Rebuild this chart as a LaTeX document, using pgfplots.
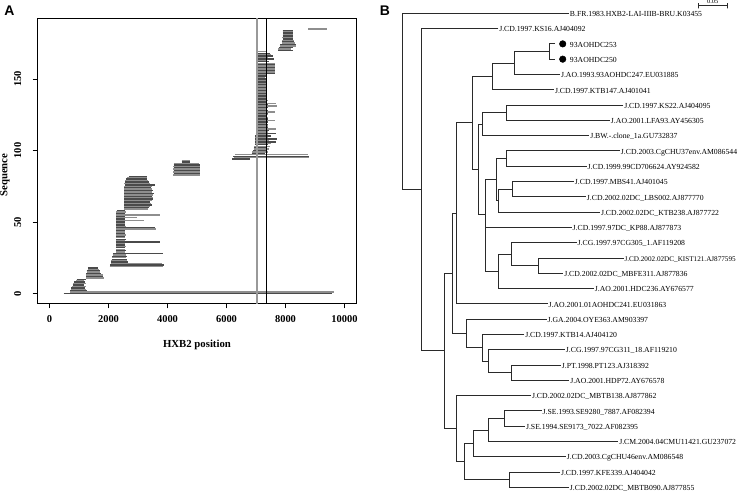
\documentclass[border=0pt]{standalone}
\usepackage{fontspec}
\setmainfont{Liberation Serif}
\newfontfamily\sansfam{Liberation Sans}
\usepackage{pgfplots}
\pgfplotsset{compat=1.18}
\usepackage{pgfplotstable}

\definecolor{segdark}{HTML}{4A4A4A}
\definecolor{seglight}{HTML}{8E8E8E}
\definecolor{vgray}{HTML}{999999}
\definecolor{treeline}{HTML}{2A2A2A}

% sequence index, start and end HXB2 positions
\pgfplotstableread{
y x0 x1
0 480 9560
1 700 9640
2 710 1270
3 720 1250
4 730 1200
5 760 1230
6 780 1180
7 800 1240
8 830 1200
9 900 1180
10 920 1230
11 1250 1850
12 1250 1830
13 1230 1820
14 1250 1750
15 1260 1700
16 1260 1720
17 1290 1680
18 1300 1650
19 2040 3860
20 2060 3880
21 2080 3830
22 2100 2650
23 2100 2640
24 2110 2630
25 2120 2600
26 2130 2620
27 2140 2580
28 2150 3850
29 2260 2560
30 2250 2580
31 2260 2570
32 2250 2560
33 2260 2580
34 2270 2570
35 2260 2560
36 2250 3760
37 2260 2570
38 2270 2580
39 2260 2560
40 2250 2570
41 2260 2580
42 2270 2560
43 2260 2570
44 2250 2560
45 2260 3600
46 2270 3560
47 2260 2580
48 2250 2570
49 2260 2560
50 2270 2570
51 2260 3220
52 2260 2570
53 2260 2960
54 2260 2570
55 2250 3760
56 2270 2560
57 2260 2580
58 2280 2560
59 2540 3330
60 2530 3370
61 2540 3400
62 2530 3460
63 2540 3450
64 2530 3420
65 2540 3480
66 2530 3520
67 2540 3500
68 2530 3460
69 2540 3510
70 2530 3550
71 2540 3460
72 2530 3500
73 2540 3480
74 2530 3430
75 2540 3470
76 2550 3560
77 2540 3400
78 2560 3380
79 2570 3350
80 2590 3320
81 2620 3300
82 2680 3300
83 4200 5100
84 4210 5090
85 4200 5100
86 4210 5100
87 4200 5090
88 4210 5100
89 4200 5100
90 4210 5090
91 4220 5080
92 4480 4770
93 4490 4760
94 6200 6800
95 6250 8780
96 6230 8780
97 6280 8760
98 6850 7300
99 6880 7400
100 6900 7350
101 6920 7430
102 6930 7380
103 6940 7480
104 6950 7420
105 6960 7500
106 6960 7680
107 6970 7450
108 6970 7700
109 6980 7400
110 6980 7500
111 6990 7420
112 6990 7680
113 7000 7400
114 7000 7450
115 7000 7690
116 7000 7400
117 7010 7420
118 7000 7400
119 7010 7380
120 7000 7420
121 7010 7660
122 7000 7400
123 7010 7420
124 7000 7380
125 7010 7400
126 7000 7420
127 7010 7660
128 7000 7400
129 7010 7380
130 7000 7420
131 7010 7700
132 7000 7400
133 7010 7690
134 7020 7380
135 7020 7400
136 7020 7370
137 7020 7380
138 7030 7370
139 7020 7380
140 7030 7370
141 7020 7380
142 7030 7370
143 7020 7380
144 7030 7370
145 7030 7380
146 7030 7370
147 7030 7380
148 7030 7370
149 7040 7380
150 7030 7370
151 7040 7300
152 7040 7380
153 7040 7350
154 7040 7640
155 7040 7650
156 7040 7640
157 7040 7660
158 7040 7650
159 7040 7640
160 7040 7660
161 7040 7640
162 7050 7450
163 7040 7380
164 7050 7620
165 7040 7400
166 7050 7580
167 7050 7520
168 7060 7460
169 7080 7380
170 7750 8240
171 7760 8200
172 7780 8240
173 7800 8370
174 7820 8350
175 7880 8330
176 7880 8280
177 7890 8300
178 7900 8260
179 7890 8270
180 7900 8250
181 7900 8260
182 7910 8250
183 7900 8260
184 7900 8250
185 8770 9420
}\segs

\tikzset{
  tree/.style={draw=treeline, line width=0.85bp, mark=none, line join=miter},
  lab/.style={anchor=west, font=\fontsize{7.75}{9}\selectfont, inner xsep=0.8bp, inner ysep=0pt, text height=0.66em, text depth=0pt},
}

\begin{document}
\begin{tikzpicture}
\path[use as bounding box] (0bp,0bp) rectangle (741bp,492bp);

% ---------------- Panel A ----------------
\begin{axis}[
  at={(37.7bp,188.7bp)}, anchor=south west,
  scale only axis, width=318.6bp, height=285bp,
  xmin=-400, xmax=10400, ymin=-6.8, ymax=192.4,
  xtick={0,2000,4000,6000,8000,10000},
  ytick={0,50,100,150},
  scaled ticks=false,
  /pgf/number format/assume math mode=true,
  /pgf/number format/1000 sep={},
  tick align=outside, xtick pos=left, ytick pos=left,
  major tick length=5bp,
  axis line style={line width=0.8bp, black},
  every tick/.style={black, line width=0.8bp},
  xticklabel shift=4bp, yticklabel shift=8bp,
  xticklabel style={font=\bfseries\fontsize{10.5}{12}\selectfont},
  yticklabel style={font=\bfseries\fontsize{10.5}{12}\selectfont, rotate=90, anchor=south},
  xlabel={HXB2 position},
  ylabel={Sequence},
  xlabel style={at={(axis description cs:0.5,-0.1463)}, anchor=center, font=\bfseries\fontsize{10.8}{12}\selectfont},
  ylabel style={at={(axis description cs:-0.1026,0.450)}, anchor=center, font=\bfseries\fontsize{10.8}{12}\selectfont},
]
\addplot[draw=seglight, line width=1.4bp,
  quiver={u=\thisrow{x1}-\thisrow{x0}, v=0},
  restrict expr to domain={mod(\thisrow{y},2)}{1:1}]
  table[x=x0, y=y] {\segs};
\addplot[draw=segdark, line width=1.4bp,
  quiver={u=\thisrow{x1}-\thisrow{x0}, v=0},
  restrict expr to domain={mod(\thisrow{y},2)}{0:0}]
  table[x=x0, y=y] {\segs};
\addplot[vgray, line width=2bp] coordinates {(7020,-20) (7020,220)};
\addplot[black, line width=0.8bp] coordinates {(7360,-20) (7360,220)};
\end{axis}

% ---------------- Panel B ----------------
\begin{axis}[
  at={(370bp,0bp)}, anchor=south west,
  scale only axis, width=371bp, height=492bp,
  xmin=-0.0557, xmax=0.584, ymin=0.130, ymax=32.31,
  y dir=reverse, hide axis, clip=false,
]
% root and backbone
\addplot[tree] coordinates {(0.2874,1) (0,1) (0,12.54) (0.0322,12.54)};
\addplot[tree] coordinates {(0.1655,2) (0.0322,2) (0.0322,23.08) (0.0719,23.08)};
\addplot[tree] coordinates {(0.0866,18.01) (0.0719,18.01) (0.0719,28.16) (0.0938,28.16)};
\addplot[tree] coordinates {(0.0926,14.08) (0.0866,14.08) (0.0866,21.94) (0.1112,21.94)};
\addplot[tree] coordinates {(0.1207,8.16) (0.0926,8.16) (0.0926,20) (0.2507,20)};
\addplot[tree] coordinates {(0.1552,5.125) (0.1207,5.125) (0.1207,11.2) (0.1310,11.2)};
\addplot[tree] coordinates {(0.1931,4.25) (0.1552,4.25) (0.1552,6) (0.2616,6)};
\addplot[tree] coordinates {(0.2529,3.5) (0.1931,3.5) (0.1931,5) (0.2719,5)};
\addplot[tree] coordinates {(0.2633,3) (0.2529,3) (0.2529,4) (0.2633,4)};
\addplot[tree] coordinates {(0.1379,8.25) (0.1310,8.25) (0.1310,14.16) (0.1426,14.16)};
\addplot[tree] coordinates {(0.1800,7.5) (0.1379,7.5) (0.1379,9) (0.3224,9)};
\addplot[tree] coordinates {(0.3810,7) (0.1800,7) (0.1800,8) (0.3581,8)};
\addplot[tree] coordinates {(0.1628,11.875) (0.1426,11.875) (0.1426,17.875) (0.1655,17.875)};
\addplot[tree] coordinates {(0.1426,15) (0.2921,15)};
\addplot[tree] coordinates {(0.1788,10.5) (0.1628,10.5) (0.1628,13.25) (0.1662,13.25)};
\addplot[tree] coordinates {(0.3753,10) (0.1788,10) (0.1788,11) (0.3179,11)};
\addplot[tree] coordinates {(0.1903,12.5) (0.1662,12.5) (0.1662,14) (0.3409,14)};
\addplot[tree] coordinates {(0.2960,12) (0.1903,12) (0.1903,13) (0.3167,13)};
\addplot[tree] coordinates {(0.1886,16.75) (0.1655,16.75) (0.1655,19) (0.3305,19)};
\addplot[tree] coordinates {(0.3007,16) (0.1886,16) (0.1886,17.5) (0.2345,17.5)};
\addplot[tree] coordinates {(0.3822,17) (0.2345,17) (0.2345,18) (0.2776,18)};
\addplot[tree] coordinates {(0.2490,21) (0.1112,21) (0.1112,22.875) (0.1379,22.875)};
\addplot[tree] coordinates {(0.2103,22) (0.1379,22) (0.1379,23.75) (0.1490,23.75)};
\addplot[tree] coordinates {(0.2805,23) (0.1490,23) (0.1490,24.5) (0.1886,24.5)};
\addplot[tree] coordinates {(0.2736,24) (0.1886,24) (0.1886,25) (0.2879,25)};
\addplot[tree] coordinates {(0.2219,26) (0.0938,26) (0.0938,30.31) (0.1069,30.31)};
\addplot[tree] coordinates {(0.1224,29.125) (0.1069,29.125) (0.1069,31.5) (0.1845,31.5)};
\addplot[tree] coordinates {(0.1483,28.25) (0.1224,28.25) (0.1224,30) (0.2822,30)};
\addplot[tree] coordinates {(0.1759,27.5) (0.1483,27.5) (0.1483,29) (0.3724,29)};
\addplot[tree] coordinates {(0.2403,27) (0.1759,27) (0.1759,28) (0.2116,28)};
\addplot[tree] coordinates {(0.2719,31) (0.1845,31) (0.1845,32) (0.2874,32)};
% scale bar
\addplot[tree, line width=0.8bp] coordinates {(0.5103,0.35) (0.5103,0.67) (0.5103,0.503) (0.5603,0.503) (0.5603,0.67) (0.5603,0.35)};
% sample markers
\addplot[only marks, mark=*, mark size=3.3bp, black] coordinates {(0.2766,3) (0.2766,4)};

\node[anchor=south, font=\fontsize{6.5}{7}\selectfont, inner sep=0.3bp] at (axis cs:0.5353,0.42) {0.05};

\node[lab] at (axis cs:0.2874,1) {B.FR.1983.HXB2-LAI-IIIB-BRU.K03455};
\node[lab] at (axis cs:0.1655,2) {J.CD.1997.KS16.AJ404092};
\node[lab] at (axis cs:0.2874,3) {93AOHDC253};
\node[lab] at (axis cs:0.2874,4) {93AOHDC250};
\node[lab] at (axis cs:0.2719,5) {J.AO.1993.93AOHDC247.EU031885};
\node[lab] at (axis cs:0.2616,6) {J.CD.1997.KTB147.AJ401041};
\node[lab] at (axis cs:0.3810,7) {J.CD.1997.KS22.AJ404095};
\node[lab] at (axis cs:0.3581,8) {J.AO.2001.LFA93.AY456305};
\node[lab] at (axis cs:0.3224,9) {J.BW.-.clone\_1a.GU732837};
\node[lab] at (axis cs:0.3753,10) {J.CD.2003.CgCHU37env.AM086544};
\node[lab] at (axis cs:0.3179,11) {J.CD.1999.99CD706624.AY924582};
\node[lab] at (axis cs:0.2960,12) {J.CD.1997.MBS41.AJ401045};
\node[lab] at (axis cs:0.3167,13) {J.CD.2002.02DC\_LBS002.AJ877770};
\node[lab] at (axis cs:0.3409,14) {J.CD.2002.02DC\_KTB238.AJ877722};
\node[lab] at (axis cs:0.2921,15) {J.CD.1997.97DC\_KP88.AJ877873};
\node[lab] at (axis cs:0.3007,16) {J.CG.1997.97CG305\_1.AF119208};
\node[lab, font=\fontsize{7.2}{9}\selectfont, inner xsep=0.4bp] at (axis cs:0.3822,17) {J.CD.2002.02DC\_KIST121.AJ877595};
\node[lab] at (axis cs:0.2776,18) {J.CD.2002.02DC\_MBFE311.AJ877836};
\node[lab] at (axis cs:0.3305,19) {J.AO.2001.HDC236.AY676577};
\node[lab] at (axis cs:0.2507,20) {J.AO.2001.01AOHDC241.EU031863};
\node[lab] at (axis cs:0.2490,21) {J.GA.2004.OYE363.AM903397};
\node[lab] at (axis cs:0.2103,22) {J.CD.1997.KTB14.AJ404120};
\node[lab] at (axis cs:0.2805,23) {J.CG.1997.97CG311\_18.AF119210};
\node[lab] at (axis cs:0.2736,24) {J.PT.1998.PT123.AJ318392};
\node[lab] at (axis cs:0.2879,25) {J.AO.2001.HDP72.AY676578};
\node[lab] at (axis cs:0.2219,26) {J.CD.2002.02DC\_MBTB138.AJ877862};
\node[lab] at (axis cs:0.2403,27) {J.SE.1993.SE9280\_7887.AF082394};
\node[lab] at (axis cs:0.2116,28) {J.SE.1994.SE9173\_7022.AF082395};
\node[lab] at (axis cs:0.3724,29) {J.CM.2004.04CMU11421.GU237072};
\node[lab] at (axis cs:0.2822,30) {J.CD.2003.CgCHU46env.AM086548};
\node[lab] at (axis cs:0.2719,31) {J.CD.1997.KFE339.AJ404042};
\node[lab] at (axis cs:0.2874,32) {J.CD.2002.02DC\_MBTB090.AJ877855};
\end{axis}

% panel letters
\node[font=\sansfam\bfseries\fontsize{14}{14}\selectfont, inner sep=0pt, text height=0.72em, text depth=0pt] at (9.5bp,480.3bp) {A};
\node[font=\sansfam\bfseries\fontsize{14}{14}\selectfont, inner sep=0pt, text height=0.72em, text depth=0pt] at (385bp,480.3bp) {B};
\end{tikzpicture}
\end{document}
